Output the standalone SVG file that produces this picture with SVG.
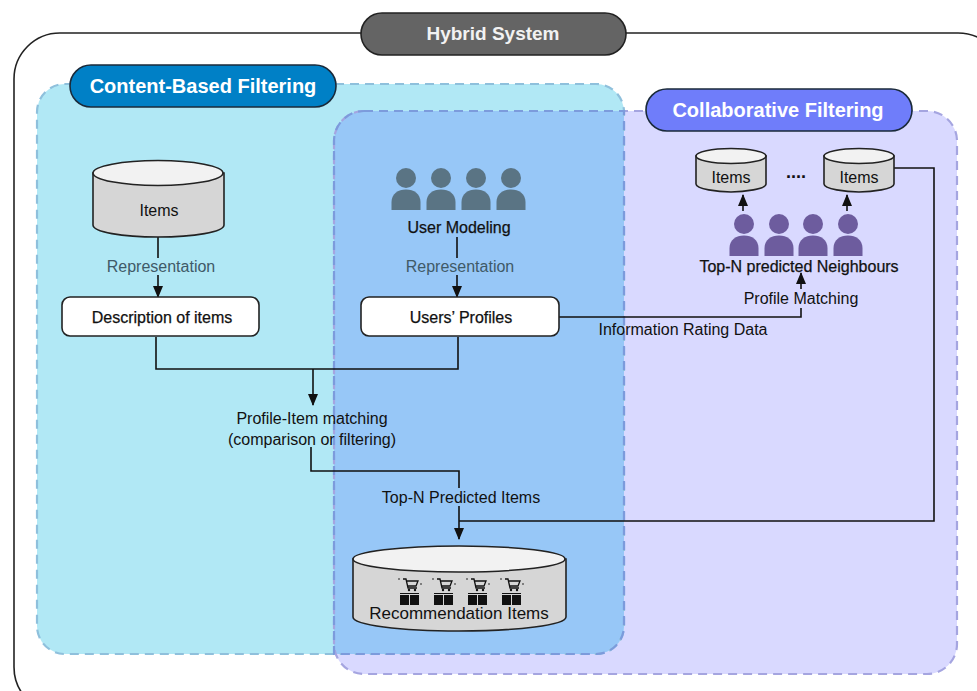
<svg xmlns="http://www.w3.org/2000/svg" width="977" height="691" viewBox="0 0 977 691">
<style>
text{font-family:"Liberation Sans",Arial,sans-serif;fill:#111;text-anchor:middle}
.lbl{font-size:16px}
.med{font-size:16px;font-weight:500;stroke:#111;stroke-width:.25px}
.grey{fill:#3f5a68;font-size:16px}
.pill{font-size:20px;font-weight:bold;fill:#fff}
.line{fill:none;stroke:#111;stroke-width:1.6}
.box{fill:#fff;stroke:#222;stroke-width:1.6}
.cylb{fill:#d6d6d6;stroke:#222;stroke-width:1.6}
.cylt{fill:#f2f2f2;stroke:#222;stroke-width:1.6}
.zone{stroke-width:2.2;stroke-dasharray:9 6;fill:none}
</style>
<defs>
<marker id="arrow" viewBox="0 0 12 10" refX="11" refY="5" markerWidth="12" markerHeight="10" markerUnits="userSpaceOnUse" orient="auto"><path d="M0 0L12 5L0 10Z" fill="#111"/></marker>
<g id="person"><circle cx="0" cy="0" r="10"/><path d="M-14.500 32V24C-14.500 16-8 11.500 0 11.500S14.500 16 14.500 24V32Z"/></g>
<g id="cart"><path d="M-7-6h3l2 9h9M-3-4h11l-2 5h-8" fill="none" stroke="#111" stroke-width="1.300"/><circle cx="-1" cy="5" r="1.200" fill="#111"/><circle cx="5" cy="5" r="1.200" fill="#111"/><circle cx="-11" cy="-6" r=".8" fill="#111"/><circle cx="11" cy="-1" r=".8" fill="#111"/><rect x="-10" y="10" width="9" height="10" fill="#111"/><rect x="0" y="10" width="9" height="10" fill="#111"/><path d="M-10 8.500H9" stroke="#111" stroke-width="1"/></g>
</defs>
<rect width="977" height="691" fill="#fff"/>
<rect x="14" y="33" width="990" height="680" rx="46" fill="#fff" stroke="#222" stroke-width="1.600"/>
<g id="zones">
<rect x="334" y="111" width="623" height="563" rx="30" fill="#d9d9ff"/>
<rect x="37" y="84" width="587" height="570" rx="28" fill="#b1e8f5"/>
<path d="M364 111H624V626A28 28 0 0 1 596 654H334V141A30 30 0 0 1 364 111Z" fill="#97c7f7"/>
<rect class="zone" x="334" y="111" width="623" height="563" rx="30" stroke="#a5a5e0"/>
<rect class="zone" x="37" y="84" width="587" height="570" rx="28" stroke="#8fc0dc"/>
<path class="zone" d="M364 111H624V626A28 28 0 0 1 596 654H334V141A30 30 0 0 1 364 111Z" stroke="#7c9bdc"/>
</g>
<g id="connectors">
<path class="line" d="M158 237V258M158 275V297" marker-end="url(#arrow)"/>
<path class="line" d="M457 237V258M457 275V297" marker-end="url(#arrow)"/>
<path class="line" d="M156 337V369H458V337"/>
<path class="line" d="M313 369V405" marker-end="url(#arrow)"/>
<path class="line" d="M311 447V471H459V488"/>
<path class="line" d="M459 506V539" marker-end="url(#arrow)"/>
<path class="line" d="M894 168H934V521H459"/>
<path class="line" d="M559 317H801V308"/>
<path class="line" d="M801 289V273" marker-end="url(#arrow)"/>
<path class="line" d="M743 211V195" marker-end="url(#arrow)"/>
<path class="line" d="M847 211V195" marker-end="url(#arrow)"/>
</g>
<g id="hybrid-system"><rect x="361" y="13" width="265" height="42" rx="21" fill="#646464" stroke="#222" stroke-width="1.600"/><text class="pill" x="493" y="40" style="font-size:19px;fill:#f2f2f2">Hybrid System</text></g>
<g id="content-based"><rect x="70" y="65" width="266" height="42" rx="21" fill="#0080c6" stroke="#1a2a3a" stroke-width="1.600"/><text class="pill" x="203" y="93">Content-Based Filtering</text></g>
<g id="collaborative"><rect x="646" y="89" width="266" height="42" rx="21" fill="#6f7dfa" stroke="#1a2a3a" stroke-width="1.600"/><text class="pill" x="778" y="117">Collaborative Filtering</text></g>
<g id="items-main"><path class="cylb" d="M93 173V225C93 232 122 237 158 237S224 232 224 225V173Z"/><ellipse class="cylt" cx="158" cy="173" rx="65" ry="12.500"/><text class="lbl" x="159" y="216">Items</text></g>
<text class="grey" x="161" y="272">Representation</text>
<g id="description"><rect class="box" x="62" y="297" width="197" height="39" rx="8"/><text class="med" x="162" y="323">Description of items</text></g>
<g id="user-modeling" fill="#5a7484"><use href="#person" x="406" y="178"/><use href="#person" x="441" y="178"/><use href="#person" x="476" y="178"/><use href="#person" x="511" y="178"/><text class="med" x="459" y="233">User Modeling</text></g>
<text class="grey" x="460" y="272">Representation</text>
<g id="users-profiles"><rect class="box" x="361" y="297" width="198" height="39" rx="8"/><text class="med" x="461" y="323">Users’ Profiles</text></g>
<g id="items-left"><path class="cylb" d="M696 156V184C696 189 718 192 731 192S766 189 766 184V156Z"/><ellipse class="cylt" cx="731" cy="156" rx="35" ry="7.500"/><text class="lbl" x="731" y="183">Items</text></g>
<text x="796" y="178" style="font-size:18px;font-weight:bold">....</text>
<g id="items-right"><path class="cylb" d="M824 156V184C824 189 846 192 859 192S894 189 894 184V156Z"/><ellipse class="cylt" cx="859" cy="156" rx="35" ry="7.500"/><text class="lbl" x="859" y="183">Items</text></g>
<g id="neighbours" fill="#6d5c9e"><use href="#person" x="744" y="224"/><use href="#person" x="779" y="224"/><use href="#person" x="813" y="224"/><use href="#person" x="848" y="224"/><text class="med" x="799" y="272">Top-N predicted Neighbours</text></g>
<text class="lbl" x="801" y="304">Profile Matching</text>
<text class="lbl" x="683" y="335">Information Rating Data</text>
<text class="lbl" x="312" y="424">Profile-Item matching</text>
<text class="lbl" x="312" y="445">(comparison or filtering)</text>
<text class="lbl" x="461" y="503">Top-N Predicted Items</text>
<g id="recommendation"><path class="cylb" d="M353 559V617C353 625 400 631 459 631S566 625 566 617V559Z"/><ellipse class="cylt" cx="459" cy="559" rx="106" ry="13"/><use href="#cart" x="410" y="585"/><use href="#cart" x="444" y="585"/><use href="#cart" x="478" y="585"/><use href="#cart" x="512" y="585"/><text class="lbl" x="459" y="619" style="font-size:17px">Recommendation Items</text></g>
</svg>
